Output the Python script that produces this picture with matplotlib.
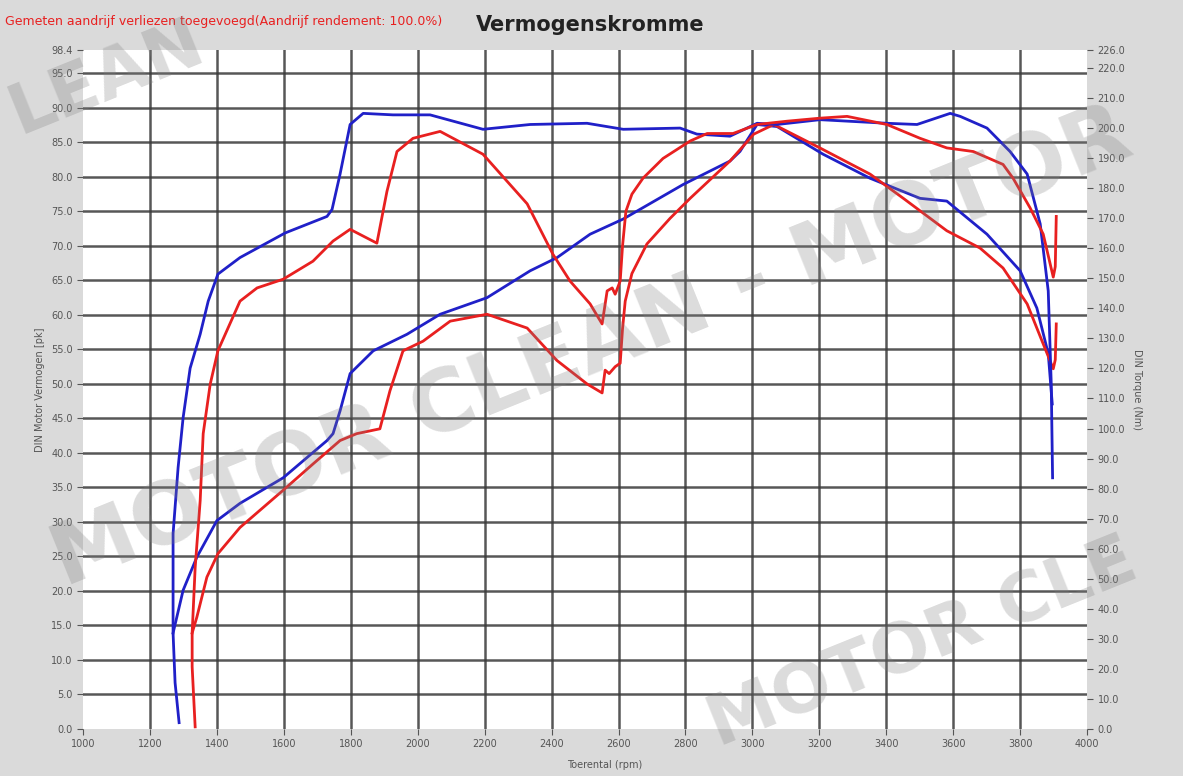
import matplotlib
matplotlib.use('Agg')
import matplotlib.pyplot as plt
import numpy as np

# blue run - power (pk, left axis)
blue_pk_rpm = [1269, 1299, 1340, 1400, 1469, 1598, 1729, 1747, 1768, 1798, 1867, 1968,
               2067, 2207, 2336, 2416, 2515, 2614, 2793, 2933, 2963, 3014, 3074, 3211,
               3352, 3501, 3581, 3701, 3800, 3850, 3884, 3896]
blue_pk = [13.9, 20.1, 24.9, 30.2, 32.7, 36.4, 41.8, 42.8, 46.1, 51.5, 54.8, 57.2,
           60.1, 62.5, 66.4, 68.3, 71.7, 73.9, 78.9, 82.3, 83.7, 87.6, 87.3, 83.3,
           79.8, 76.9, 76.5, 71.7, 66.4, 61.0, 54.4, 47.1]

# blue run - torque (Nm, right axis)
blue_nm_rpm = [1287, 1275, 1269, 1269, 1284, 1299, 1320, 1350, 1374, 1403, 1469, 1604,
               1729, 1744, 1768, 1798, 1837, 1926, 2037, 2195, 2336, 2506, 2614, 2784,
               2834, 2933, 3014, 3074, 3202, 3402, 3492, 3591, 3621, 3701, 3770, 3821,
               3860, 3884, 3893, 3897]
blue_nm = [2.1, 15.4, 31.9, 65.0, 87.0, 103.6, 120.1, 131.4, 142.4, 151.4, 156.9, 165.1,
           170.6, 172.9, 184.7, 201.2, 204.9, 204.4, 204.4, 199.6, 201.2, 201.6, 199.6, 200.0,
           198.0, 197.3, 201.6, 201.2, 202.8, 201.6, 201.2, 204.9, 203.9, 200.0, 192.2, 184.7,
           168.1, 145.8, 114.8, 83.6]

# red run - power (pk, left axis)
red_pk_rpm = [1326, 1340, 1370, 1403, 1469, 1598, 1687, 1768, 1818, 1887, 1917, 1956,
              2016, 2097, 2207, 2327, 2416, 2506, 2551, 2560, 2572, 2590, 2605, 2612,
              2620, 2640, 2685, 2754, 2814, 2933, 3004, 3064, 3202, 3352, 3451, 3581,
              3680, 3749, 3821, 3869, 3899, 3905, 3908]
red_pk = [13.9, 16.2, 22.0, 25.4, 29.2, 34.6, 38.4, 41.8, 42.8, 43.5, 49.0, 54.8,
          56.2, 59.1, 60.1, 58.1, 53.4, 50.0, 48.7, 52.0, 51.5, 52.5, 53.0, 58.0,
          62.0, 66.0, 70.3, 74.0, 76.9, 82.3, 86.2, 87.6, 84.2, 80.4, 76.9, 72.2,
          69.7, 66.8, 61.6, 55.8, 52.2, 53.5, 58.7]

# red run - torque (Nm, right axis)
red_nm_rpm = [1335, 1326, 1326, 1335, 1350, 1359, 1380, 1403, 1469, 1520, 1598, 1687,
              1747, 1798, 1878, 1908, 1938, 1986, 2067, 2195, 2327, 2404, 2455, 2515,
              2551, 2566, 2581, 2590, 2605, 2612, 2622, 2640, 2673, 2733, 2814, 2865,
              2942, 3014, 3104, 3202, 3283, 3402, 3501, 3581, 3660, 3749, 3779, 3830,
              3869, 3899, 3905, 3908]
red_nm = [0.7, 20.7, 31.9, 53.7, 76.0, 98.3, 114.8, 125.9, 142.4, 146.8, 149.7, 155.7,
          162.4, 166.3, 161.7, 178.9, 192.2, 196.6, 198.9, 191.3, 174.8, 158.0, 149.1, 141.5,
          134.8, 145.8, 146.8, 144.7, 149.1, 160.8, 172.3, 178.0, 183.3, 189.9, 195.7, 198.2,
          198.2, 201.2, 202.3, 203.3, 203.9, 201.2, 196.6, 193.4, 192.2, 187.9, 183.3, 173.4,
          164.7, 150.4, 153.9, 170.6]

x_ticks = list(range(1000, 4001, 200))
left_ticks = [v * 5.0 for v in range(20)] + [98.4]
right_ticks = [v * 10.0 for v in range(23)] + [226.0]

fig = plt.figure(figsize=(11.83, 7.76), dpi=100, facecolor='#dadada')
ax = fig.add_axes([0.0702, 0.0606, 0.8487, 0.875])
ax2 = ax.twinx()

ax.set_xlim(1000, 4000)
ax.set_ylim(0, 98.4)
ax2.set_ylim(0, 226)

grid_c = '#3a3a3a'
for v in x_ticks[1:-1]:
    ax.axvline(v, color=grid_c, lw=1.8, alpha=0.85, zorder=1)
for v in left_ticks[1:-1]:
    ax.axhline(v, color=grid_c, lw=1.8, alpha=0.85, zorder=1)

ax.plot(blue_pk_rpm, blue_pk, color='#2020c8', lw=2, zorder=3)
ax2.plot(blue_nm_rpm, blue_nm, color='#2020c8', lw=2, zorder=3)
ax.plot(red_pk_rpm, red_pk, color='#e82020', lw=2, zorder=4)
ax2.plot(red_nm_rpm, red_nm, color='#e82020', lw=2, zorder=4)

lab_c = '#555555'
ax.set_xticks(x_ticks)
ax.set_xticklabels([str(v) for v in x_ticks])
ax.set_yticks(left_ticks)
ax.set_yticklabels(['%.1f' % v for v in left_ticks])
ax2.set_yticks(right_ticks)
ax2.set_yticklabels(['%.1f' % v for v in right_ticks])
for a in (ax, ax2):
    a.tick_params(labelsize=7, colors=lab_c, length=4, width=0.8)
    for s in a.spines.values():
        s.set_visible(False)

ax.set_xlabel('Toerental (rpm)', fontsize=7, color=lab_c, labelpad=2)
ax.xaxis.set_label_coords(0.52, -0.045)
ax.set_ylabel('DIN Motor Vermogen [pk]', fontsize=7, color=lab_c, labelpad=4)
ax2.set_ylabel('DIN Torque (Nm)', fontsize=7, color=lab_c, rotation=270, labelpad=12)

fig.text(0.004, 0.972, 'Gemeten aandrijf verliezen toegevoegd(Aandrijf rendement: 100.0%)',
         fontsize=9, color='#e82020', va='center')
fig.text(0.402, 0.968, 'Vermogenskromme', fontsize=15, fontweight='bold', color='#222222',
         va='center')

# watermark
wm = dict(color='#808080', alpha=0.28, fontweight='bold', ha='center',
          va='center', zorder=10)
fig.text(0.50, 0.55, 'MOTOR CLEAN - MOTOR', rotation=22, fontsize=62, **wm)
fig.text(0.78, 0.17, 'MOTOR CLE', rotation=22, fontsize=50, **wm)
fig.text(0.09, 0.90, 'LEAN', rotation=22, fontsize=50, **wm)

fig.savefig('out.png', dpi=100, facecolor=fig.get_facecolor())
